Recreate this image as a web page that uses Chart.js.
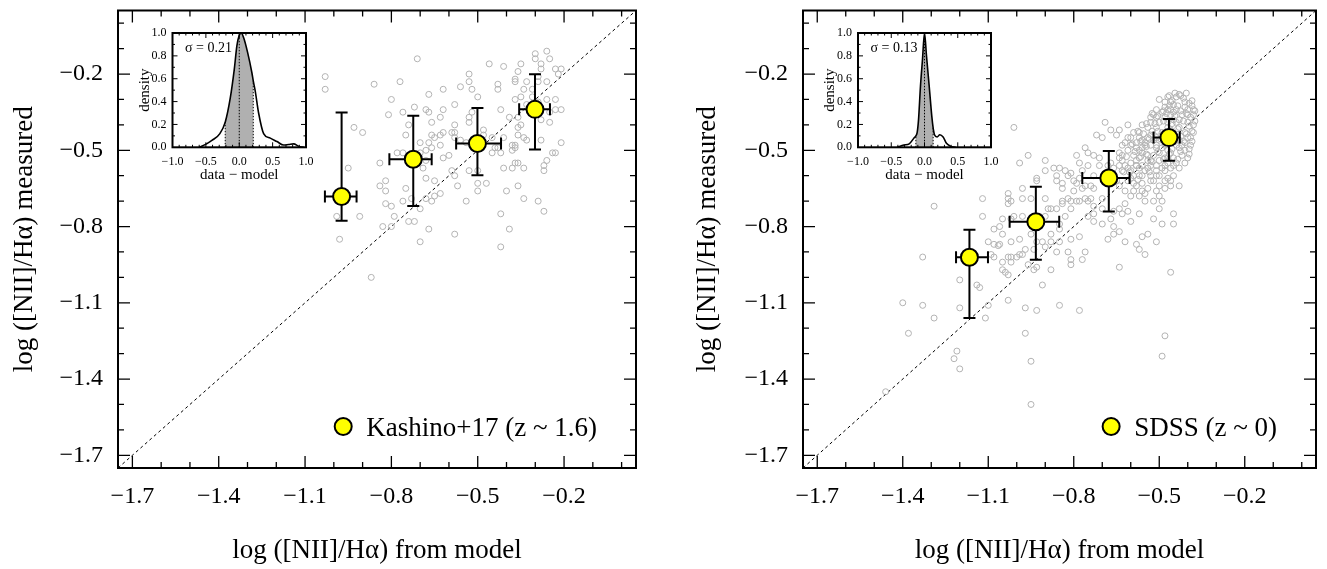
<!DOCTYPE html>
<html><head><meta charset="utf-8">
<script src="https://cdn.jsdelivr.net/npm/chart.js@4.4.1/dist/chart.umd.min.js"></script>
<style>
html,body{margin:0;padding:0;background:#fff;}
#wrap{position:relative;width:1327px;height:569px;overflow:hidden;background:#fff;}
canvas{position:absolute;}
</style></head><body>
<div id="wrap">
<canvas id="mainL" style="left:0px;top:0px" width="663" height="569"></canvas>
<canvas id="mainR" style="left:663px;top:0px" width="664" height="569"></canvas>
<canvas id="insetL" style="left:130px;top:25px" width="190" height="165"></canvas>
<canvas id="insetR" style="left:815px;top:25px" width="190" height="165"></canvas>
</div>
<script>
// ---------------- DATA ----------------
const axisRange = [-1.75, 0.05];
const axisTicks = [-1.7, -1.4, -1.1, -0.8, -0.5, -0.2];
const oneToOne = [-1.75, 0.05];
const insetXTicks = [-1.0, -0.5, 0.0, 0.5, 1.0];
const insetYTicks = [0.0, 0.2, 0.4, 0.6, 0.8, 1.0];

// Kashino+17 binned points
const kashinoX   = [-0.973, -0.724, -0.501, -0.301];
const kashinoY   = [-0.682, -0.535, -0.473, -0.339];
const kashinoXLo = [-1.031, -0.807, -0.575, -0.356];
const kashinoXHi = [-0.921, -0.660, -0.419, -0.249];
const kashinoYLo = [-0.777, -0.719, -0.598, -0.497];
const kashinoYHi = [-0.351, -0.364, -0.334, -0.201];

// SDSS binned points
const sdssX   = [-1.166, -0.933, -0.677, -0.466];
const sdssY   = [-0.921, -0.781, -0.609, -0.450];
const sdssXLo = [-1.213, -1.025, -0.770, -0.520];
const sdssXHi = [-1.101, -0.851, -0.604, -0.428];
const sdssYLo = [-1.160, -0.931, -0.741, -0.541];
const sdssYHi = [-0.813, -0.643, -0.503, -0.377];

// individual galaxies (model, measured)
const kashinoGray = [[-1.03,-0.21],[-1.03,-0.26],[-0.86,-0.24],[-0.71,-0.14],[-0.77,-0.23],[-0.80,-0.30],[-0.81,-0.36],[-0.76,-0.35],[-0.72,-0.33],[-0.67,-0.28],[-0.68,-0.34],[-0.67,-0.35],[-0.62,-0.26],[-0.62,-0.34],[-0.58,-0.32],[-0.56,-0.25],[-0.53,-0.20],[-0.53,-0.23],[-0.52,-0.26],[-0.50,-0.29],[-0.46,-0.16],[-0.41,-0.17],[-0.35,-0.16],[-0.43,-0.24],[-0.43,-0.26],[-0.37,-0.22],[-0.37,-0.23],[-0.36,-0.19],[-0.30,-0.12],[-0.30,-0.14],[-0.26,-0.11],[-0.25,-0.14],[-0.28,-0.16],[-0.28,-0.18],[-0.23,-0.18],[-0.21,-0.18],[-0.22,-0.20],[-0.29,-0.21],[-0.29,-0.23],[-0.26,-0.23],[-0.26,-0.30],[-0.23,-0.30],[-0.23,-0.34],[-0.21,-0.34],[-0.33,-0.23],[-0.34,-0.26],[-0.37,-0.30],[-0.35,-0.29],[-0.33,-0.32],[-0.25,-0.35],[-0.25,-0.39],[-0.28,-0.38],[-0.31,-0.26],[-0.31,-0.29],[-0.29,-0.31],[-0.36,-0.37],[-0.36,-0.41],[-0.39,-0.37],[-0.42,-0.34],[-0.35,-0.40],[-0.34,-0.45],[-0.33,-0.46],[-0.36,-0.44],[-0.37,-0.48],[-0.38,-0.48],[-0.37,-0.49],[-0.38,-0.50],[-0.41,-0.45],[-0.43,-0.49],[-0.42,-0.51],[-0.37,-0.55],[-0.36,-0.55],[-0.34,-0.57],[-0.38,-0.57],[-0.41,-0.57],[-0.28,-0.46],[-0.24,-0.51],[-0.23,-0.51],[-0.21,-0.47],[-0.26,-0.54],[-0.27,-0.56],[-0.27,-0.58],[-0.29,-0.70],[-0.27,-0.74],[-0.34,-0.69],[-0.40,-0.66],[-0.36,-0.64],[-0.42,-0.75],[-0.39,-0.81],[-0.42,-0.88],[-0.47,-0.63],[-0.50,-0.66],[-0.50,-0.63],[-0.54,-0.70],[-0.57,-0.64],[-0.58,-0.60],[-0.59,-0.58],[-0.53,-0.58],[-0.50,-0.58],[-0.45,-0.51],[-0.44,-0.49],[-0.45,-0.45],[-0.48,-0.42],[-0.48,-0.44],[-0.52,-0.35],[-0.53,-0.37],[-0.53,-0.39],[-0.58,-0.40],[-0.58,-0.43],[-0.56,-0.46],[-0.54,-0.47],[-0.58,-0.45],[-0.59,-0.43],[-0.60,-0.52],[-0.62,-0.53],[-0.63,-0.48],[-0.63,-0.44],[-0.62,-0.43],[-0.65,-0.45],[-0.66,-0.49],[-0.66,-0.44],[-0.67,-0.47],[-0.68,-0.50],[-0.70,-0.51],[-0.68,-0.54],[-0.68,-0.61],[-0.69,-0.57],[-0.65,-0.62],[-0.63,-0.67],[-0.66,-0.70],[-0.65,-0.68],[-0.68,-0.69],[-0.70,-0.73],[-0.70,-0.47],[-0.74,-0.40],[-0.75,-0.44],[-0.78,-0.51],[-0.76,-0.51],[-0.84,-0.55],[-0.84,-0.64],[-0.82,-0.62],[-0.82,-0.66],[-0.75,-0.65],[-0.76,-0.70],[-0.73,-0.69],[-0.82,-0.71],[-0.80,-0.72],[-0.79,-0.76],[-0.83,-0.80],[-0.80,-0.80],[-0.74,-0.78],[-0.72,-0.78],[-0.67,-0.81],[-0.70,-0.86],[-0.58,-0.83],[-0.87,-1.00],[-0.95,-0.57],[-0.93,-0.41],[-0.90,-0.43],[-0.91,-0.76],[-0.99,-0.76],[-0.98,-0.85],[-0.74,-0.53],[-0.66,-0.39],[-0.63,-0.37]];

const sdssGray = [[-1.01,-0.41],[-0.96,-0.52],[-0.99,-0.55],[-0.90,-0.54],[-0.93,-0.62],[-1.12,-0.69],[-1.29,-0.72],[-1.12,-0.76],[-1.33,-0.92],[-1.20,-1.01],[-1.14,-1.03],[-1.13,-1.04],[-1.40,-1.10],[-1.33,-1.11],[-1.20,-1.12],[-1.10,-1.11],[-1.11,-1.16],[-1.29,-1.16],[-1.38,-1.22],[-1.03,-1.09],[-0.97,-1.12],[-0.93,-1.13],[-0.85,-1.11],[-0.78,-1.13],[-0.91,-1.03],[-0.88,-0.97],[-0.94,-0.97],[-0.93,-0.96],[-0.96,-0.95],[-1.03,-0.99],[-1.05,-0.97],[-0.97,-1.22],[-0.95,-1.33],[-1.21,-1.29],[-1.22,-1.32],[-1.20,-1.36],[-0.95,-1.50],[-1.46,-1.45],[-0.48,-1.23],[-0.49,-1.31],[-0.46,-0.98],[-0.64,-0.96],[-0.77,-0.93],[-0.81,-0.95],[-0.81,-0.93],[-0.82,-0.90],[-0.76,-0.90],[-0.86,-0.90],[-0.85,-0.86],[-0.81,-0.85],[-0.78,-0.84],[-0.85,-0.81],[-0.88,-0.86],[-0.90,-0.88],[-0.93,-0.86],[-0.95,-0.83],[-0.99,-0.85],[-1.02,-0.86],[-1.06,-0.87],[-1.065,-0.875],[-1.08,-0.87],[-1.10,-0.86],[-1.08,-0.81],[-1.06,-0.80],[-1.05,-0.83],[-1.02,-0.77],[-1.05,-0.77],[-1.03,-0.67],[-1.03,-0.69],[-1.02,-0.70],[-1.03,-0.71],[-0.98,-0.69],[-0.98,-0.65],[-0.95,-0.69],[-0.93,-0.61],[-0.90,-0.69],[-0.89,-0.73],[-0.88,-0.73],[-0.90,-0.76],[-0.92,-0.76],[-0.98,-0.76],[-1.01,-0.76],[-1.09,-0.91],[-1.08,-0.92],[-1.05,-0.94],[-1.03,-0.92],[-1.02,-0.94],[-1.02,-0.92],[-1.00,-0.92],[-0.99,-0.91],[-1.04,-0.98],[-0.98,-0.91],[-0.97,-0.89],[-0.94,-0.89],[-0.91,-0.86],[-0.88,-0.83],[-0.85,-0.79],[-0.83,-0.76],[-0.81,-0.73],[-0.81,-0.70],[-0.82,-0.69],[-0.84,-0.70],[-0.86,-0.73],[-0.84,-0.65],[-0.84,-0.63],[-0.80,-0.66],[-0.79,-0.63],[-0.77,-0.65],[-0.80,-0.62],[-0.81,-0.59],[-0.83,-0.58],[-0.85,-0.57],[-0.87,-0.57],[-0.86,-0.60],[-0.86,-0.62],[-0.90,-0.58],[-0.84,-0.71],[-0.82,-0.60],[-0.78,-0.70],[-0.76,-0.69],[-0.79,-0.70],[-0.75,-0.70],[-0.74,-0.69],[-0.73,-0.72],[-0.75,-0.76],[-0.73,-0.75],[-0.73,-0.78],[-0.70,-0.79],[-0.68,-0.85],[-0.66,-0.83],[-0.66,-0.80],[-0.64,-0.82],[-0.62,-0.86],[-0.60,-0.78],[-0.57,-0.75],[-0.58,-0.87],[-0.57,-0.89],[-0.55,-0.91],[-0.56,-0.84],[-0.54,-0.83],[-0.51,-0.86],[-0.52,-0.77],[-0.49,-0.79],[-0.45,-0.79],[-0.45,-0.75],[-0.43,-0.64],[-0.46,-0.62],[-0.49,-0.70],[-0.50,-0.73],[-0.52,-0.70],[-0.55,-0.70],[-0.57,-0.68],[-0.59,-0.66],[-0.60,-0.68],[-0.62,-0.71],[-0.64,-0.73],[-0.66,-0.74],[-0.67,-0.77],[-0.70,-0.73],[-0.70,-0.69],[-0.73,-0.65],[-0.74,-0.64],[-0.76,-0.64],[-0.78,-0.61],[-0.77,-0.58],[-0.75,-0.56],[-0.78,-0.55],[-0.79,-0.52],[-0.75,-0.51],[-0.76,-0.49],[-0.72,-0.44],[-0.69,-0.39],[-0.67,-0.42],[-0.64,-0.42],[-0.61,-0.40],[-0.65,-0.44],[-0.70,-0.45],[-0.73,-0.52],[-0.71,-0.53],[-0.73,-0.60],[-0.71,-0.56],[-0.67,-0.55],[-0.64,-0.53],[-0.63,-0.52],[-0.63,-0.58],[-0.58,-0.56],[-0.61,-0.62],[-0.59,-0.63],[-0.56,-0.60],[-0.53,-0.62],[-0.51,-0.66],[-0.61,-0.74],[-0.63,-0.75],
[-0.50,-0.30],[-0.47,-0.29],[-0.44,-0.29],[-0.43,-0.28],[-0.41,-0.31],[-0.40,-0.34],[-0.38,-0.34],[-0.38,-0.36],[-0.39,-0.37],[-0.40,-0.39],[-0.38,-0.43],[-0.39,-0.48],[-0.40,-0.53],[-0.41,-0.55],[-0.42,-0.52],[-0.43,-0.49],[-0.43,-0.46],[-0.41,-0.43],[-0.43,-0.41],[-0.42,-0.36],[-0.44,-0.34],[-0.45,-0.32],[-0.46,-0.31],[-0.48,-0.33],[-0.49,-0.35],[-0.51,-0.34],[-0.52,-0.36],[-0.53,-0.39],[-0.54,-0.41],[-0.56,-0.40],[-0.57,-0.43],[-0.59,-0.43],[-0.60,-0.45],[-0.61,-0.45],[-0.62,-0.47],[-0.60,-0.48],[-0.58,-0.47],[-0.56,-0.46],[-0.54,-0.45],[-0.53,-0.44],[-0.51,-0.41],[-0.50,-0.39],[-0.48,-0.37],[-0.46,-0.36],[-0.45,-0.38],[-0.44,-0.39],[-0.41,-0.47],[-0.44,-0.55],[-0.45,-0.56],[-0.46,-0.57],[-0.48,-0.58],[-0.50,-0.60],[-0.51,-0.56],[-0.53,-0.54],[-0.54,-0.52],[-0.56,-0.51],[-0.57,-0.50],[-0.59,-0.52],[-0.60,-0.55],[-0.58,-0.54],[-0.56,-0.56],[-0.54,-0.57],[-0.53,-0.60],[-0.52,-0.62],[-0.54,-0.65],[-0.56,-0.63],[-0.57,-0.60],[-0.59,-0.60],[-0.61,-0.57],[-0.62,-0.56],[-0.64,-0.51],[-0.63,-0.48],[-0.53,-0.48],[-0.51,-0.49],[-0.50,-0.51],[-0.48,-0.53],[-0.48,-0.48],[-0.50,-0.46],[-0.51,-0.45],[-0.49,-0.43],[-0.47,-0.41],[-0.46,-0.42],[-0.44,-0.45],[-0.46,-0.51],[-0.47,-0.53],[-0.48,-0.56],[-0.50,-0.54],[-0.52,-0.52],[-0.43,-0.57],[-0.45,-0.60],[-0.47,-0.61],[-0.48,-0.62],[-0.50,-0.64],[-0.51,-0.60],[-0.54,-0.54],[-0.57,-0.53],[-0.55,-0.48],[-0.57,-0.45],[-0.58,-0.49],[-0.61,-0.50],[-0.63,-0.54],[-0.64,-0.56],[-0.66,-0.57],[-0.68,-0.56],[-0.69,-0.59],[-0.67,-0.60],[-0.65,-0.62],[-0.64,-0.64],[-0.62,-0.66],[-0.60,-0.61],[-0.47,-0.34],[-0.46,-0.34],[-0.48,-0.31],[-0.41,-0.33],[-0.40,-0.36],[-0.43,-0.38],[-0.40,-0.45],[-0.42,-0.48],[-0.41,-0.50],[-0.39,-0.45],[-0.38,-0.40],[-0.45,-0.35],[-0.47,-0.39],[-0.51,-0.37],[-0.53,-0.37],[-0.55,-0.47],[-0.56,-0.49],[-0.52,-0.46],[-0.51,-0.48],[-0.49,-0.49],[-0.47,-0.50],[-0.46,-0.46],[-0.44,-0.48],[-0.45,-0.53],[-0.47,-0.55],[-0.49,-0.57],[-0.51,-0.58],[-0.53,-0.56],[-0.55,-0.58],[-0.57,-0.57],[-0.58,-0.56],[-0.60,-0.58],[-0.58,-0.64],[-0.56,-0.66],[-0.55,-0.67],[-0.50,-0.68],[-0.48,-0.65],[-0.46,-0.64],
[-0.415,-0.295],[-0.395,-0.315],[-0.385,-0.325],[-0.405,-0.355],[-0.425,-0.345],[-0.435,-0.325],[-0.455,-0.305],[-0.465,-0.325],[-0.475,-0.355],[-0.485,-0.385],[-0.445,-0.365],[-0.455,-0.395],[-0.435,-0.415],[-0.415,-0.385],[-0.395,-0.405],[-0.385,-0.425],[-0.405,-0.435],[-0.425,-0.445],[-0.445,-0.465],[-0.415,-0.465],[-0.395,-0.495],[-0.425,-0.505],[-0.455,-0.495],[-0.475,-0.475],[-0.495,-0.455],[-0.505,-0.425],[-0.515,-0.395],[-0.525,-0.425],[-0.535,-0.455],[-0.545,-0.485],[-0.555,-0.435],[-0.565,-0.465],[-0.545,-0.395],[-0.525,-0.355],[-0.505,-0.365],[-0.485,-0.345],[-0.465,-0.285],[-0.445,-0.275],[-0.425,-0.285],[-0.405,-0.275],[-0.385,-0.305],[-0.375,-0.345],[-0.375,-0.385],[-0.385,-0.465],[-0.395,-0.515],[-0.435,-0.535],[-0.465,-0.515],[-0.485,-0.535],[-0.505,-0.505],[-0.525,-0.545],[-0.545,-0.515],[-0.565,-0.525],[-0.585,-0.505],[-0.575,-0.425],[-0.595,-0.475],[-0.615,-0.525],[-0.625,-0.585],[-0.605,-0.585],[-0.575,-0.615],[-0.535,-0.585]];

// KDE of (data - model)
const kashinoSigma = 0.21;
const kashinoKdeX = [-0.60, -0.49, -0.41, -0.29, -0.21, -0.135, -0.075, -0.035, 0.0, 0.03, 0.065, 0.125, 0.19, 0.21, 0.24, 0.29, 0.365, 0.465, 0.565, 0.665, 0.74, 0.815, 0.89, 0.97];
const kashinoKdeY = [0.0, 0.03, 0.06, 0.12, 0.22, 0.43, 0.68, 0.89, 0.98, 1.0, 0.96, 0.83, 0.65, 0.58, 0.49, 0.30, 0.12, 0.08, 0.05, 0.02, 0.025, 0.03, 0.01, 0.0];
const sdssSigma = 0.13;
const sdssKdeX = [-0.41, -0.31, -0.23, -0.16, -0.13, -0.11, -0.09, -0.06, -0.03, 0.0, 0.03, 0.07, 0.11, 0.13, 0.15, 0.19, 0.23, 0.28, 0.33, 0.39, 0.47];
const sdssKdeY = [0.0, 0.02, 0.03, 0.08, 0.10, 0.13, 0.24, 0.54, 0.77, 1.0, 0.80, 0.54, 0.27, 0.17, 0.11, 0.09, 0.11, 0.09, 0.035, 0.01, 0.0];

// ---------------- STYLE / HELPERS ----------------
const FONT = "'Liberation Serif', 'Times New Roman', serif";
function fmt(v) { const s = Math.abs(v).toFixed(1); return (v < -1e-9 ? '\u2212' : '') + s; }
function steps(a, b, st) { const o = []; const n = Math.round((b - a) / st); for (let i = 0; i <= n; i++) o.push(+(a + i * st).toFixed(4)); return o; }
function noPadX(s, h) { s.height = h; s.paddingLeft = 0; s.paddingRight = 0; s.paddingTop = 0; s.paddingBottom = 0; }
function noPadY(s, w) { s.width = w; s.paddingLeft = 0; s.paddingRight = 0; s.paddingTop = 0; s.paddingBottom = 0; }

const framePlugin = {
  id: 'frame',
  afterDraw(chart, args, o) {
    const { ctx, chartArea: a, scales: { x, y } } = chart;
    ctx.save();
    ctx.strokeStyle = '#000';
    ctx.lineWidth = o.tickWidth;
    const isMaj = (list, v) => list.some(m => Math.abs(m - v) < 1e-6);
    ctx.beginPath();
    o.minorX.forEach(v => {
      const L = isMaj(o.majorX, v) ? o.major : o.minor;
      const p = x.getPixelForValue(v);
      if (p < a.left + 1 || p > a.right - 1) return;
      ctx.moveTo(p, a.bottom); ctx.lineTo(p, a.bottom - L);
      ctx.moveTo(p, a.top); ctx.lineTo(p, a.top + L);
    });
    o.minorY.forEach(v => {
      const L = isMaj(o.majorY, v) ? o.major : o.minor;
      const p = y.getPixelForValue(v);
      if (p < a.top + 1 || p > a.bottom - 1) return;
      ctx.moveTo(a.left, p); ctx.lineTo(a.left + L, p);
      ctx.moveTo(a.right, p); ctx.lineTo(a.right - L, p);
    });
    ctx.stroke();
    ctx.lineWidth = o.border;
    ctx.strokeRect(a.left, a.top, a.right - a.left, a.bottom - a.top);
    ctx.restore();
  }
};

const errPlugin = {
  id: 'errbars',
  beforeDatasetDraw(chart, args, o) {
    if (args.index !== 0 || !o || !o.x) return;
    const { ctx, scales: { x, y } } = chart;
    ctx.save();
    ctx.strokeStyle = '#000';
    ctx.lineWidth = 2;
    const c = 6;
    o.x.forEach((xv, i) => {
      const cx = x.getPixelForValue(xv), cy = y.getPixelForValue(o.y[i]);
      const x0 = x.getPixelForValue(o.xlo[i]), x1 = x.getPixelForValue(o.xhi[i]);
      const y0 = y.getPixelForValue(o.ylo[i]), y1 = y.getPixelForValue(o.yhi[i]);
      ctx.beginPath();
      ctx.moveTo(x0, cy); ctx.lineTo(x1, cy);
      ctx.moveTo(cx, y0); ctx.lineTo(cx, y1);
      ctx.moveTo(x0, cy - c); ctx.lineTo(x0, cy + c);
      ctx.moveTo(x1, cy - c); ctx.lineTo(x1, cy + c);
      ctx.moveTo(cx - c, y0); ctx.lineTo(cx + c, y0);
      ctx.moveTo(cx - c, y1); ctx.lineTo(cx + c, y1);
      ctx.stroke();
    });
    ctx.restore();
  }
};

const textPlugin = {
  id: 'texts',
  afterDraw(chart, args, o) {
    const { ctx, chartArea: a } = chart;
    ctx.save();
    ctx.fillStyle = '#000';
    ctx.textAlign = 'center';
    ctx.textBaseline = 'middle';
    ctx.font = o.titleSize + 'px ' + FONT;
    ctx.fillText(o.xTitle, (a.left + a.right) / 2, o.xTitleY);
    ctx.save();
    ctx.translate(o.yTitleX, (a.top + a.bottom) / 2);
    ctx.rotate(-Math.PI / 2);
    ctx.fillText(o.yTitle, 0, 0);
    ctx.restore();
    if (o.legend) {
      const ds = chart.data.datasets[0];
      ctx.font = o.legendSize + 'px ' + FONT;
      ctx.textAlign = 'right';
      ctx.textBaseline = 'alphabetic';
      const tx = a.right - o.legendRight, ty = a.bottom - o.legendBase;
      ctx.fillText(o.legend, tx, ty);
      const w = ctx.measureText(o.legend).width;
      ctx.beginPath();
      ctx.arc(tx - w - 23, ty - 9.5, ds.pointRadius, 0, Math.PI * 2);
      ctx.fillStyle = ds.backgroundColor; ctx.fill();
      ctx.lineWidth = ds.borderWidth; ctx.strokeStyle = ds.borderColor; ctx.stroke();
    }
    if (o.sigma) {
      ctx.fillStyle = '#000';
      ctx.font = o.sigmaSize + 'px ' + FONT;
      ctx.textAlign = 'left';
      ctx.textBaseline = 'middle';
      ctx.fillText(o.sigma, a.left + o.sigmaDX, a.top + o.sigmaDY);
    }
    ctx.restore();
  }
};

const dottedPlugin = {
  id: 'dotted',
  afterDatasetsDraw(chart, args, o) {
    if (!o || !o.xs) return;
    const { ctx, scales: { x, y } } = chart;
    ctx.save();
    ctx.strokeStyle = '#000';
    ctx.lineWidth = 1;
    ctx.setLineDash([1.5, 1.5]);
    o.xs.forEach(v => {
      const i = o.kx.findIndex(q => Math.abs(q - v) < 1e-9);
      const top = i >= 0 ? o.ky[i] : 1;
      ctx.beginPath();
      ctx.moveTo(x.getPixelForValue(v), y.getPixelForValue(0));
      ctx.lineTo(x.getPixelForValue(v), y.getPixelForValue(top));
      ctx.stroke();
    });
    ctx.restore();
  }
};

function makeMain(id, d) {
  return new Chart(document.getElementById(id), {
    type: 'scatter',
    data: {
      datasets: [
        { label: d.legend, data: d.px.map((v, i) => ({ x: v, y: d.py[i] })), pointRadius: 8.5, pointHoverRadius: 8.5,
          backgroundColor: '#ffff00', borderColor: '#000', borderWidth: 2 },
        { label: 'galaxies', data: d.gray.map(p => ({ x: p[0], y: p[1] })), pointRadius: 3, pointHoverRadius: 3,
          backgroundColor: 'rgba(0,0,0,0)', borderColor: '#b3b3b3', borderWidth: 1 },
        { label: '1:1', data: oneToOne.map(v => ({ x: v, y: v })), showLine: true, pointRadius: 0,
          borderColor: '#000', borderWidth: 1, borderDash: [3, 3], fill: false }
      ]
    },
    options: {
      responsive: false, animation: false, devicePixelRatio: 1, events: [],
      layout: { padding: { left: 0, top: 10, right: d.padRight, bottom: 0 } },
      scales: {
        x: { type: 'linear', min: axisRange[0], max: axisRange[1],
             afterFit(s) { noPadX(s, 101); },
             afterBuildTicks(s) { s.ticks = axisTicks.map(v => ({ value: v })); },
             grid: { display: false, drawTicks: false }, border: { display: false },
             ticks: { color: '#000', font: { family: FONT, size: 24 }, padding: 14, maxRotation: 0, autoSkip: false, callback: v => fmt(v) } },
        y: { type: 'linear', min: axisRange[0], max: axisRange[1],
             afterFit(s) { noPadY(s, d.yWidth); },
             afterBuildTicks(s) { s.ticks = axisTicks.map(v => ({ value: v })); },
             grid: { display: false, drawTicks: false }, border: { display: false },
             ticks: { color: '#000', font: { family: FONT, size: 24 }, padding: 15, autoSkip: false, callback: v => fmt(v) } }
      },
      plugins: {
        legend: { display: false }, tooltip: { enabled: false },
        frame: { majorX: axisTicks, minorX: steps(-1.7, 0.0, 0.1), majorY: axisTicks, minorY: steps(-1.7, 0.0, 0.1),
                 major: 12, minor: 6, tickWidth: 1.3, border: 2 },
        errbars: { x: d.px, y: d.py, xlo: d.xlo, xhi: d.xhi, ylo: d.ylo, yhi: d.yhi },
        texts: { xTitle: 'log ([NII]/H\u03b1) from model', yTitle: 'log ([NII]/H\u03b1) measured', titleSize: 27,
                 xTitleY: 551, yTitleX: d.yTitleX, legend: d.legend, legendSize: 27, legendRight: 39, legendBase: 32 }
      }
    },
    plugins: [framePlugin, errPlugin, textPlugin]
  });
}

function makeInset(id, d) {
  const curve = d.kx.map((v, i) => ({ x: v, y: d.ky[i] }));
  const shade = curve.filter(p => Math.abs(p.x) <= d.sigma + 1e-9);
  return new Chart(document.getElementById(id), {
    type: 'line',
    data: {
      datasets: [
        { label: 'kde', data: curve, borderColor: '#000', borderWidth: 1.6, pointRadius: 0, fill: false, cubicInterpolationMode: 'monotone' },
        { label: 'sigma', data: shade, borderWidth: 0, borderColor: 'rgba(0,0,0,0)', backgroundColor: '#b0b0b0', pointRadius: 0, fill: 'origin', cubicInterpolationMode: 'monotone' }
      ]
    },
    options: {
      responsive: false, animation: false, devicePixelRatio: 1, events: [],
      layout: { padding: { left: 0, top: 8, right: d.padRight, bottom: 0 } },
      scales: {
        x: { type: 'linear', min: -1, max: 1,
             afterFit(s) { noPadX(s, 42.7); },
             afterBuildTicks(s) { s.ticks = insetXTicks.map(v => ({ value: v })); },
             grid: { display: false, drawTicks: false }, border: { display: false },
             ticks: { color: '#000', font: { family: FONT, size: 12 }, padding: 7, maxRotation: 0, autoSkip: false, callback: v => fmt(v) } },
        y: { type: 'linear', min: 0, max: 1,
             afterFit(s) { noPadY(s, d.yWidth); },
             afterBuildTicks(s) { s.ticks = insetYTicks.map(v => ({ value: v })); },
             grid: { display: false, drawTicks: false }, border: { display: false },
             ticks: { color: '#000', font: { family: FONT, size: 12 }, padding: 6, autoSkip: false, callback: v => fmt(v) } }
      },
      plugins: {
        legend: { display: false }, tooltip: { enabled: false },
        frame: { majorX: insetXTicks, minorX: steps(-1, 1, 0.1), majorY: insetYTicks, minorY: steps(0, 1, 0.1),
                 major: 5, minor: 2.5, tickWidth: 1, border: 2 },
        dotted: { xs: [-d.sigma, 0, d.sigma], kx: d.kx, ky: d.ky },
        texts: { xTitle: 'data \u2212 model', yTitle: 'density', titleSize: 15, xTitleY: 149.7, yTitleX: 15,
                 sigma: '\u03c3 = ' + d.sigma.toFixed(2), sigmaSize: 14, sigmaDX: 12.5, sigmaDY: 15.3 }
      }
    },
    plugins: [framePlugin, dottedPlugin, textPlugin]
  });
}

makeMain('mainL', { px: kashinoX, py: kashinoY, xlo: kashinoXLo, xhi: kashinoXHi, ylo: kashinoYLo, yhi: kashinoYHi,
  gray: kashinoGray, legend: 'Kashino+17 (z ~ 1.6)', yWidth: 118, padRight: 27, yTitleX: 25 });
makeMain('mainR', { px: sdssX, py: sdssY, xlo: sdssXLo, xhi: sdssXHi, ylo: sdssYLo, yhi: sdssYHi,
  gray: sdssGray, legend: 'SDSS (z ~ 0)', yWidth: 140, padRight: 11, yTitleX: 45 });
makeInset('insetL', { kx: kashinoKdeX, ky: kashinoKdeY, sigma: kashinoSigma, yWidth: 42.5, padRight: 14 });
makeInset('insetR', { kx: sdssKdeX, ky: sdssKdeY, sigma: sdssSigma, yWidth: 43, padRight: 14 });
</script>
</body></html>
